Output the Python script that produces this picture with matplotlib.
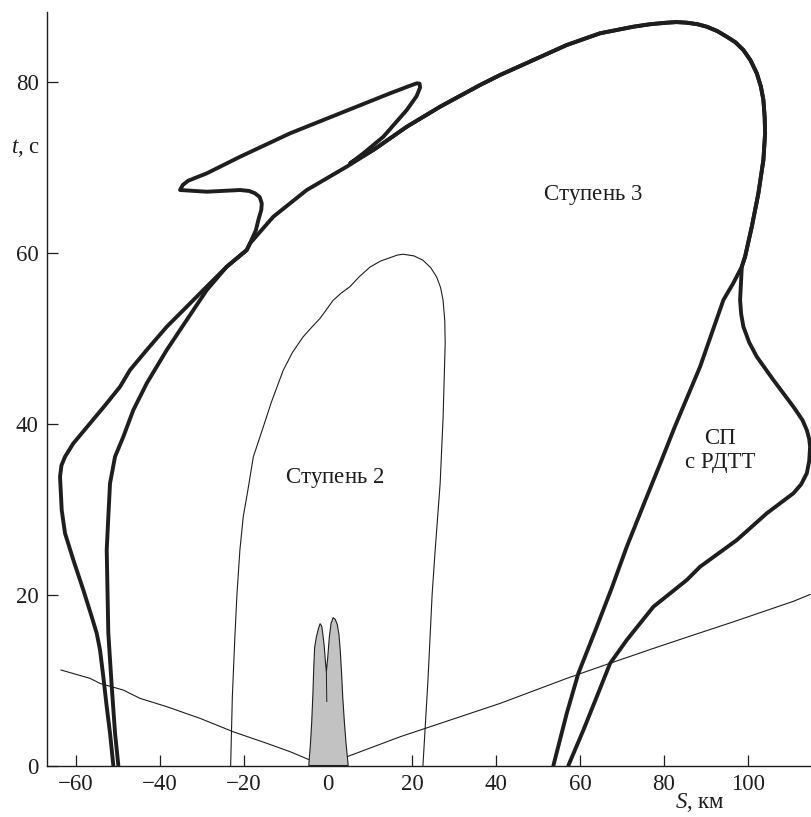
import matplotlib.pyplot as plt
import numpy as np

plt.rcParams['font.family'] = ['Liberation Serif', 'DejaVu Serif']
plt.rcParams['mathtext.fontset'] = 'custom'
plt.rcParams['mathtext.rm'] = 'Liberation Serif'
plt.rcParams['mathtext.it'] = 'Liberation Serif:italic'

# thin V-shaped line (S, km ; t, s)
v_s = [-63.6, -56.7, -54.3, -48.8, -44.8, -38.4, -30.5, -22.6, -14.6, -9.05, -4.3, 0.0,
       4.5, 17.2, 29.1, 41.0, 53.7, 56.9, 64.8, 77.5, 87.0, 96.5, 110.8, 114.8]
v_t = [11.17, 10.2, 9.6, 8.83, 7.86, 6.88, 5.52, 3.95, 2.6, 1.62, 0.64, 0.06,
       1.03, 3.37, 5.32, 7.27, 9.61, 10.2, 11.56, 13.7, 15.26, 16.8, 19.2, 20.0]

# gray double peak near S = 0
peak_s = [-4.6, -4.2, -3.9, -3.6, -3.4, -3.2, -2.8, -2.3, -1.9, -1.5, -1.2, -0.9, -0.6,
          -0.4, -0.1, 0.3, 0.7, 1.2, 1.7, 2.2, 2.6, 2.9, 3.2, 3.5, 3.9, 4.3, 4.8]
peak_t = [0.0, 2.5, 5.0, 8.5, 11.5, 13.8, 15.0, 16.0, 16.6, 16.3, 15.2, 13.9, 12.0,
          11.0, 12.5, 15.0, 16.6, 17.3, 17.1, 16.5, 15.3, 13.5, 11.0, 8.0, 5.0, 2.5, 0.0]

# stage 2 boundary (thin)
st2_s = [-23.2, -22.8, -22.2, -21.7, -21.0, -20.2, -19.1, -17.8, -15.5, -13.5, -10.7,
         -8.5, -6.0, -4.0, -1.9, 1.2, 3.0, 5.2, 7.5, 10.0, 12.5, 14.8, 16.5, 17.9,
         20.5, 22.6, 24.5, 25.9, 26.8, 27.4, 27.8, 27.9, 27.4, 26.7,
         25.5, 24.8, 23.8, 22.6]
st2_t = [0.0, 8.0, 15.0, 20.0, 25.2, 29.1, 32.2, 36.1, 39.5, 42.5, 46.2,
         48.3, 50.1, 51.2, 52.3, 54.4, 55.2, 56.0, 57.2, 58.3, 59.0, 59.4, 59.7, 59.8,
         59.6, 59.1, 58.2, 57.1, 55.9, 54.4, 52.0, 49.4, 40.7, 33.0,
         25.1, 20.1, 10.0, 0.0]

# common upper part of both thick boundaries
top_s = [10.79, 18.75, 26.68, 36.21, 40.97, 48.90, 56.86, 64.79, 72.73, 76.7, 80.68, 83.0,
         85.45, 88.0, 90.21, 92.7, 94.97, 97.0, 98.93, 100.6, 102.12, 103.1, 103.69, 104.0,
         104.10, 103.69, 102.50, 100.93, 99.33, 98.55]
top_t = [71.99, 74.71, 77.05, 79.59, 80.76, 82.51, 84.27, 85.64, 86.41, 86.7, 86.88, 86.95,
         86.88, 86.7, 86.41, 85.9, 85.24, 84.6, 83.68, 82.5, 80.96, 79.4, 77.84, 75.8,
         73.94, 70.82, 66.92, 63.02, 59.51, 58.34]

# stage 3 boundary: left part and right lower part
st3_left_s = [-49.95, -50.74, -51.52, -52.34, -52.72, -52.34, -51.93, -50.74, -48.76,
              -46.38, -43.19, -38.42, -33.66, -28.89, -24.13, -19.37, -18.58, -13.03,
              -5.07, 4.45]
st3_left_t = [0.0, 3.80, 9.22, 15.50, 25.20, 29.10, 33.01, 36.12, 38.46,
              41.58, 44.70, 48.60, 52.11, 55.61, 58.34, 60.29, 61.08, 64.19,
              67.31, 70.04]
st3_right_s = [96.5, 94.16, 88.61, 82.6, 79.1, 75.6, 71.15, 67.6, 64.01, 59.62,
               56.86, 53.67]
st3_right_t = [56.4, 54.44, 46.64, 39.63, 35.3, 31.05, 25.59, 20.8, 16.23, 10.78,
               6.11, 0.0]

# solid rocket motor variant: left part with the loop and right bulge
srm_left_s = [-51.14, -51.93, -52.72, -53.53, -54.31, -55.10, -56.29, -58.29, -60.67,
              -62.65, -63.44, -63.84, -63.5, -62.65, -60.67, -56.69, -52.72, -49.55, -47.17,
              -43.19, -38.42, -33.66, -28.11, -24.13, -19.37, -18.58, -17.2, -16.60,
              -15.9, -15.79, -16.3, -17.39, -18.8, -20.96, -28.89, -35.26, -34.6, -33.3,
              -28.89, -20.96, -9.05, 2.86, 14.77, 19.5, 21.13, 21.8, 21.92, 21.1, 18.75,
              13.17, 8.41, 5.24]
srm_left_t = [0.0, 3.77, 6.88, 10.39, 13.51, 15.46, 17.40, 20.53, 24.04,
              27.16, 29.88, 33.78, 35.1, 36.12, 37.68, 40.02, 42.36, 44.30, 46.26,
              48.60, 51.32, 53.66, 56.40, 58.34, 60.29, 61.08, 62.6, 63.80,
              65.0, 65.75, 66.5, 66.92, 67.2, 67.31, 67.11, 67.31, 67.9, 68.4,
              69.26, 71.20, 73.94, 76.28, 78.62, 79.5, 79.79, 79.75, 79.3, 78.3, 76.67,
              73.54, 71.60, 70.43]
srm_right_s = [98.14, 98.4, 98.93, 100.3, 102.12, 106.07, 110.84, 113.0, 114.03, 114.6,
               114.82, 114.6, 114.03, 112.7, 110.84, 107.67, 104.50, 97.36, 88.61, 85.45,
               77.49, 71.15, 67.18, 64.01, 60.82, 57.24]
srm_right_t = [54.44, 52.8, 51.32, 49.5, 47.81, 45.09, 41.96, 40.4, 39.24, 38.2,
               37.29, 35.6, 34.18, 32.9, 31.84, 30.67, 29.50, 26.37, 23.25, 21.70,
               18.57, 14.68, 11.95, 8.05, 4.15, 0.0]

x_ticks = [-60, -40, -20, 0, 20, 40, 60, 80, 100]
y_ticks = [0, 20, 40, 60, 80]

ink = '#1e1e1e'

fig = plt.figure(figsize=(8.12, 8.17), dpi=100)
ax = fig.add_axes([0.0579, 0.063, 0.942, 0.922])

ax.plot(v_s, v_t, color=ink, lw=0.8, zorder=2)
ax.fill(peak_s, peak_t, facecolor='#c2c2c2', edgecolor=ink, lw=0.8, zorder=3)
ax.plot([-0.4, -0.3], [11.0, 7.5], color=ink, lw=0.7, zorder=3)
ax.plot(st2_s, st2_t, color=ink, lw=0.8, zorder=2)

thick = dict(color=ink, lw=2.8, solid_joinstyle='round', solid_capstyle='round', zorder=4)
ax.plot(st3_left_s + top_s + st3_right_s, st3_left_t + top_t + st3_right_t, **thick)
ax.plot(srm_left_s + top_s + srm_right_s, srm_left_t + top_t + srm_right_t, **thick)

ax.set_xlim(-66.94, 115.25)
ax.set_ylim(0, 88.1)
ax.set_xticks(x_ticks)
ax.set_yticks(y_ticks)
ax.tick_params(direction='in', length=8, width=0.9, colors=ink, labelsize=16.5, pad=6)
for side in ['top', 'right']:
    ax.spines[side].set_visible(False)
for side in ['left', 'bottom']:
    ax.spines[side].set_linewidth(1.0)
    ax.spines[side].set_color(ink)

ax.text(63.2, 66.7, 'Ступень $\\mathit{3}$', fontsize=16.5, ha='center', va='center', color=ink)
ax.text(1.7, 33.6, 'Ступень $\\mathit{2}$', fontsize=16.5, ha='center', va='center', color=ink)
ax.text(93.4, 36.8, 'СП\nс РДТТ', fontsize=16.5, ha='center', va='center',
        linespacing=1.2, color=ink)

fig.text(0.031, 1 - 148 / 817, '$t$, с', fontsize=16.5, ha='center', va='center', color=ink)
fig.text(0.862, 3 / 817, '$S$, км', fontsize=16.5, ha='center', va='bottom', color=ink)

fig.savefig('out.png', dpi=100)
